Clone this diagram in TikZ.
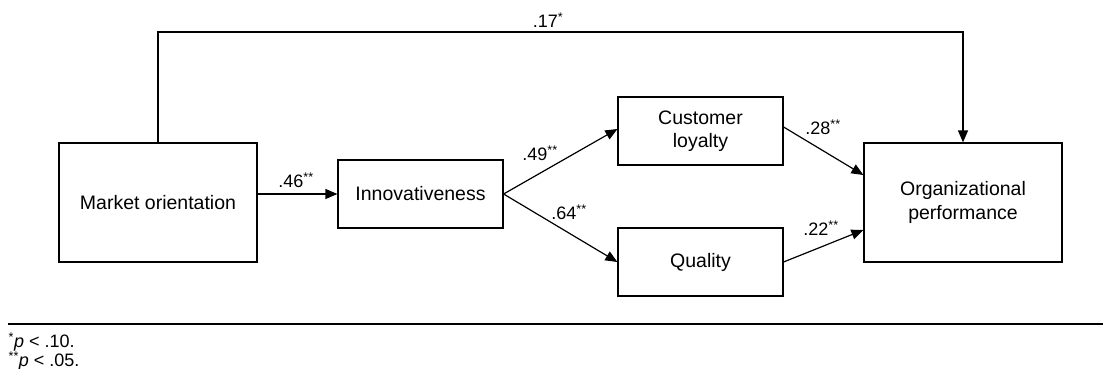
\documentclass[tikz,border=0pt]{standalone}
\usepackage{fontspec}
\setmainfont{Liberation Sans}
\usetikzlibrary{arrows.meta}

\begin{document}
\begin{tikzpicture}[x=1pt, y=-1pt,
  line width=1.2pt,
  box/.style={draw, line width=1.2pt, inner sep=0pt, align=center,
    font=\fontsize{19.5}{23.5}\selectfont},
  wide/.style={box, minimum width=198pt, minimum height=119pt},
  small/.style={box, minimum width=165pt, minimum height=68pt},
  path/.style={-{Triangle[length=12pt,width=10pt]}, line width=1.2pt},
  coef/.style={font=\fontsize{18}{20}\selectfont, inner sep=0pt},
  note/.style={font=\fontsize{18}{20}\selectfont, inner sep=0pt, anchor=west}
]
\useasboundingbox (0,0) rectangle (1103,369);

% constructs
\node[wide]  (mo) at (158,202.5)   {Market orientation};
\node[small] (in) at (420.5,194)   {Innovativeness};
\node[small] (cl) at (700.5,131)   {Customer\\loyalty};
\node[small] (qu) at (700.5,262)   {Quality};
\node[wide]  (op) at (963,202.5)   {Organizational\\performance};

% paths between constructs (yshift is in page units, positive = up)
\coordinate (top) at (0,32);
\draw[path] (mo.north) |- (top -| op.north) -- (op.north);
\draw[path] (mo.east |- in.west) -- (in.west);
\draw[path] (in.east) -- ([yshift=2pt]cl.west);
\draw[path] (in.east) -- (qu.west);
\draw[path] ([yshift=4pt]cl.east) -- ([yshift=27.5pt]op.west);
\draw[path] (qu.east) -- ([yshift=-27.5pt]op.west);

% path coefficients
\node[coef] (c17) at (548,20)  {.17\textsuperscript{*}};
\node[coef] (c46) at (296,180) {.46\textsuperscript{**}};
\node[coef] (c49) at (540,153) {.49\textsuperscript{**}};
\node[coef] (c64) at (569,212) {.64\textsuperscript{**}};
\node[coef] (c28) at (823,127) {.28\textsuperscript{**}};
\node[coef] (c22) at (821,228) {.22\textsuperscript{**}};

% footnote rule and significance levels
\coordinate (rl) at (8,324);
\coordinate (rr) at (1103,324);
\draw[line width=1.5pt] (rl) -- (rr);
\node[note] (n1) at (8,342) {\textsuperscript{*}\textit{p} < .10.};
\node[note] (n2) at (8,361) {\textsuperscript{**}\textit{p} < .05.};
\end{tikzpicture}
\end{document}
